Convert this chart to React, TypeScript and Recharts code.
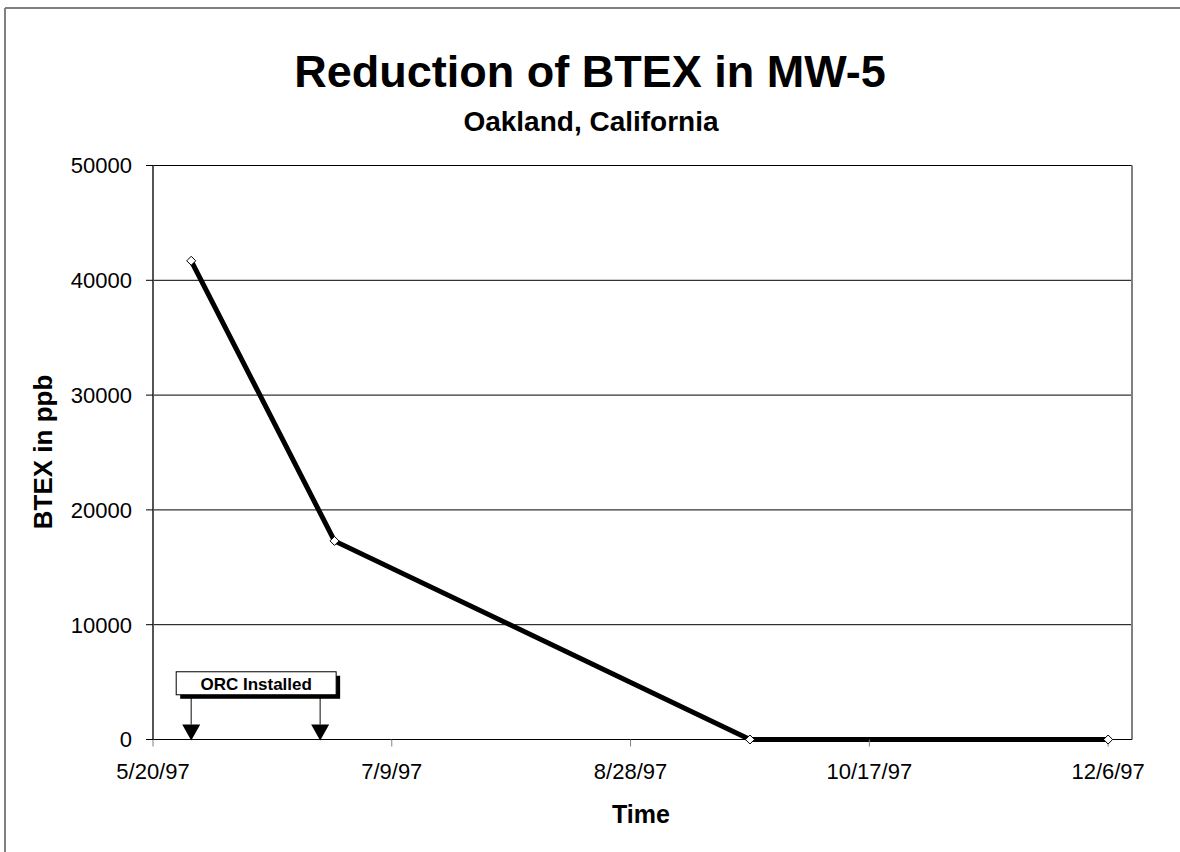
import {
  LineChart,
  Line,
  XAxis,
  YAxis,
  CartesianGrid,
  ReferenceArea,
  ReferenceLine,
} from "recharts";

const sampleDates = ["1997-05-28", "1997-06-27", "1997-09-22", "1997-12-06"];
const btexPpb = [41700, 17300, 0, 0];

const orcDates = ["1997-05-28", "1997-06-24"];
const orcLabel = "ORC Installed";

const xTickDates = ["1997-05-20", "1997-07-09", "1997-08-28", "1997-10-17", "1997-12-06"];
const xDomainDates = ["1997-05-20", "1997-12-11"];
const yTicks = [0, 10000, 20000, 30000, 40000, 50000];

const FONT = "'Liberation Sans', Arial, Helvetica, sans-serif";

function toTime(s: string) {
  const [y, m, d] = s.split("-").map(Number);
  return Date.UTC(y, m - 1, d);
}

function formatDate(v: unknown) {
  if (typeof v !== "number") return "";
  const d = new Date(v);
  return `${d.getUTCMonth() + 1}/${d.getUTCDate()}/${String(d.getUTCFullYear()).slice(2)}`;
}

const data = sampleDates.map((s, i) => ({ t: toTime(s), btex: btexPpb[i] }));

function Diamond(props: any) {
  const { cx, cy } = props;
  if (cx == null || cy == null) return null;
  const r = 4.5;
  return (
    <path
      d={`M${cx},${cy - r} L${cx + r},${cy} L${cx},${cy + r} L${cx - r},${cy} Z`}
      fill="#fff"
      stroke="#000"
      strokeWidth={1}
    />
  );
}

// box + two arrows spanning the ORC install dates
function OrcShape(props: any) {
  const { x, y, width, height } = props;
  if (x == null || y == null) return null;
  const left = x - 15;
  const right = x + width + 16;
  const boxH = 23;
  const bottom = y + height;
  const arrows = [x, x + width];
  return (
    <g>
      {arrows.map((ax, i) => (
        <g key={i}>
          <line x1={ax} y1={y + boxH} x2={ax} y2={bottom - 15} stroke="#333" strokeWidth={1.2} />
          <path d={`M${ax - 9},${bottom - 15} L${ax + 9},${bottom - 15} L${ax},${bottom + 1} Z`} fill="#000" />
        </g>
      ))}
      <rect x={left + 4} y={y + 4} width={right - left} height={boxH} fill="#000" />
      <rect x={left} y={y} width={right - left} height={boxH} fill="#fff" stroke="#000" strokeWidth={1} />
      <text
        x={(left + right) / 2}
        y={y + 18}
        textAnchor="middle"
        fontFamily={FONT}
        fontWeight="bold"
        fontSize={17}
        fill="#000"
      >
        {orcLabel}
      </text>
    </g>
  );
}

export default function App() {
  const xMin = toTime(xDomainDates[0]);
  const xMax = toTime(xDomainDates[1]);

  return (
    <div
      style={{
        position: "absolute",
        left: 0,
        top: 0,
        width: 1180,
        height: 852,
        background: "#fff",
        overflow: "hidden",
      }}
    >
      <LineChart
        width={1180}
        height={852}
        data={data}
        margin={{ top: 165.5, right: 48, bottom: 72.5, left: 83 }}
      >
        <CartesianGrid horizontal vertical={false} stroke="#000" strokeWidth={1} />
        <XAxis
          dataKey="t"
          type="number"
          domain={[xMin, xMax]}
          ticks={xTickDates.map(toTime)}
          tickFormatter={formatDate}
          height={40}
          stroke="#000"
          tickSize={7}
          tickMargin={17}
          tick={{ fontSize: 22, fill: "#000", fontFamily: FONT }}
          tickLine={{ stroke: "#808080" }}
          allowDataOverflow
        />
        <YAxis
          type="number"
          domain={[0, 50000]}
          ticks={yTicks}
          width={70}
          stroke="#555"
          axisLine={{ stroke: "#555", strokeWidth: 2 }}
          tickLine={{ stroke: "#000" }}
          tickSize={7}
          tickMargin={14}
          tick={{ fontSize: 22, fill: "#000", fontFamily: FONT }}
        />
        <ReferenceLine x={xMax} stroke="#808080" strokeWidth={2} />
        <ReferenceArea
          x1={toTime(orcDates[0])}
          x2={toTime(orcDates[1])}
          y1={0}
          y2={5900}
          shape={<OrcShape />}
        />
        <Line
          type="linear"
          dataKey="btex"
          stroke="#000"
          strokeWidth={5}
          dot={<Diamond />}
          isAnimationActive={false}
        />
      </LineChart>
      <svg
        width={1180}
        height={852}
        style={{ position: "absolute", left: 0, top: 0, pointerEvents: "none" }}
      >
        <line x1={5} y1={8} x2={1180} y2={8} stroke="#808080" strokeWidth={2} />
        <line x1={5} y1={8} x2={5} y2={852} stroke="#808080" strokeWidth={2} />
        <text x={590} y={87} textAnchor="middle" fontFamily={FONT} fontWeight="bold" fontSize={45}>
          Reduction of BTEX in MW-5
        </text>
        <text x={591} y={131} textAnchor="middle" fontFamily={FONT} fontWeight="bold" fontSize={28}>
          Oakland, California
        </text>
        <text x={641} y={823} textAnchor="middle" fontFamily={FONT} fontWeight="bold" fontSize={25}>
          Time
        </text>
        <text
          x={52}
          y={452}
          textAnchor="middle"
          fontFamily={FONT}
          fontWeight="bold"
          fontSize={26}
          transform="rotate(-90, 52, 452)"
        >
          BTEX in ppb
        </text>
      </svg>
    </div>
  );
}
